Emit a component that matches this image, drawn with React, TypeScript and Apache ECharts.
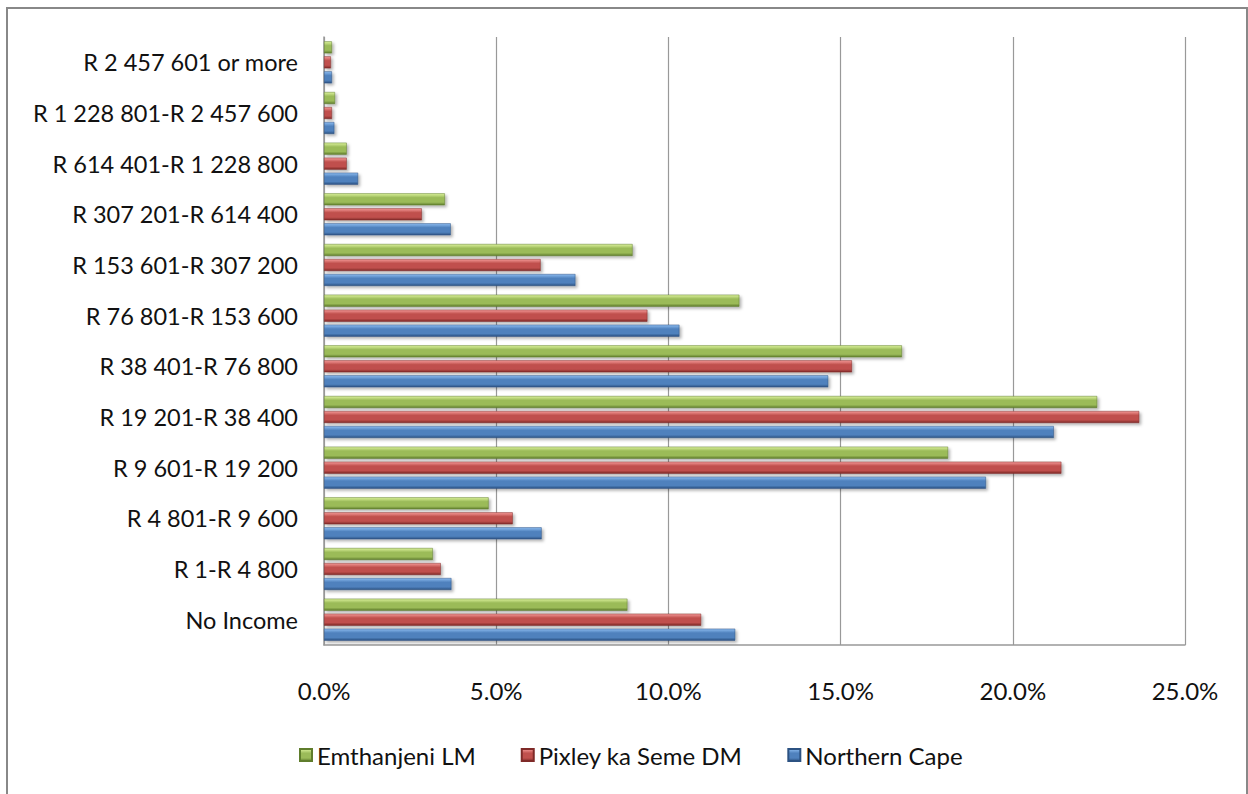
import React, { useEffect, useRef } from "react";
import * as echarts from "echarts";

const categories = [
  "No Income",
  "R 1-R 4 800",
  "R 4 801-R 9 600",
  "R 9 601-R 19 200",
  "R 19 201-R 38 400",
  "R 38 401-R 76 800",
  "R 76 801-R 153 600",
  "R 153 601-R 307 200",
  "R 307 201-R 614 400",
  "R 614 401-R 1 228 800",
  "R 1 228 801-R 2 457 600",
  "R 2 457 601 or more",
];

const northernCape = [11.94, 3.7, 6.32, 19.22, 21.19, 14.64, 10.32, 7.3, 3.68, 0.99, 0.3, 0.23];
const pixley = [10.95, 3.39, 5.48, 21.41, 23.67, 15.33, 9.39, 6.29, 2.84, 0.66, 0.23, 0.2];
const emthanjeni = [8.81, 3.16, 4.78, 18.12, 22.45, 16.78, 12.06, 8.96, 3.51, 0.66, 0.32, 0.23];

const xTicks = { min: 0, max: 25, interval: 5 };

const grad = (top: string, mid: string, bottom: string) =>
  new echarts.graphic.LinearGradient(0, 0, 0, 1, [
    { offset: 0, color: top },
    { offset: 0.35, color: mid },
    { offset: 0.75, color: mid },
    { offset: 1, color: bottom },
  ]);

export default function App() {
  const ref = useRef<HTMLDivElement>(null);
  useEffect(() => {
    const chart = echarts.init(ref.current!, undefined, { renderer: "svg" });
    const font = "Lato, 'Open Sans', sans-serif";
    const mkSeries = (name: string, data: number[], c: [string, string, string]) => ({
      name,
      type: "bar",
      data,
      barWidth: 12,
      barGap: "25%",
      itemStyle: {
        color: grad(c[0], c[1], c[2]),
        borderColor: c[2],
        borderWidth: 0.5,
        shadowColor: "rgba(0,0,0,0.3)",
        shadowBlur: 3,
        shadowOffsetX: 2,
        shadowOffsetY: 2,
      },
    });
    chart.setOption({
      animation: false,
      backgroundColor: "#ffffff",
      textStyle: { fontFamily: font },
      grid: { left: 324, top: 37, right: 1248 - 1185, bottom: 794 - 645, containLabel: false },
      legend: {
        top: 738,
        left: 294,
        itemWidth: 12,
        itemHeight: 12,
        itemGap: 45,
        icon: "rect",
        textStyle: { fontSize: 24, color: "#111", fontFamily: font },
        data: ["Emthanjeni LM", "Pixley ka Seme DM", "Northern Cape"],
      },
      xAxis: {
        type: "value",
        min: xTicks.min,
        max: xTicks.max,
        interval: xTicks.interval,
        axisLine: { show: true, lineStyle: { color: "#999", width: 1.5 } },
        axisTick: { show: false },
        splitLine: { show: true, lineStyle: { color: "#999", width: 1.2 } },
        axisLabel: {
          formatter: (v: number) => v.toFixed(1) + "%",
          fontSize: 24,
          color: "#111",
          margin: 33,
          fontFamily: font,
        },
      },
      yAxis: {
        type: "category",
        data: categories,
        axisLine: { show: true, lineStyle: { color: "#999", width: 1.5 } },
        axisTick: { show: false },
        axisLabel: { fontSize: 23.5, color: "#111", margin: 26, fontFamily: font },
      },
      series: [
        mkSeries("Emthanjeni LM", emthanjeni, ["#dcf29c", "#9bbb59", "#5f7d2c"]),
        mkSeries("Pixley ka Seme DM", pixley, ["#f59a98", "#c0504d", "#7f2a28"]),
        mkSeries("Northern Cape", northernCape, ["#8cbcf0", "#4f81bd", "#2c5282"]),
      ],
      graphic: [
        {
          type: "rect",
          shape: { x: 7, y: 8, width: 1240, height: 800 },
          style: { fill: "none", stroke: "#888", lineWidth: 2 },
          silent: true,
          z: 100,
        },
      ],
    });
    return () => chart.dispose();
  }, []);
  return (
    <div
      ref={ref}
      style={{ position: "absolute", left: 0, top: 0, width: 1248, height: 794 }}
    />
  );
}
